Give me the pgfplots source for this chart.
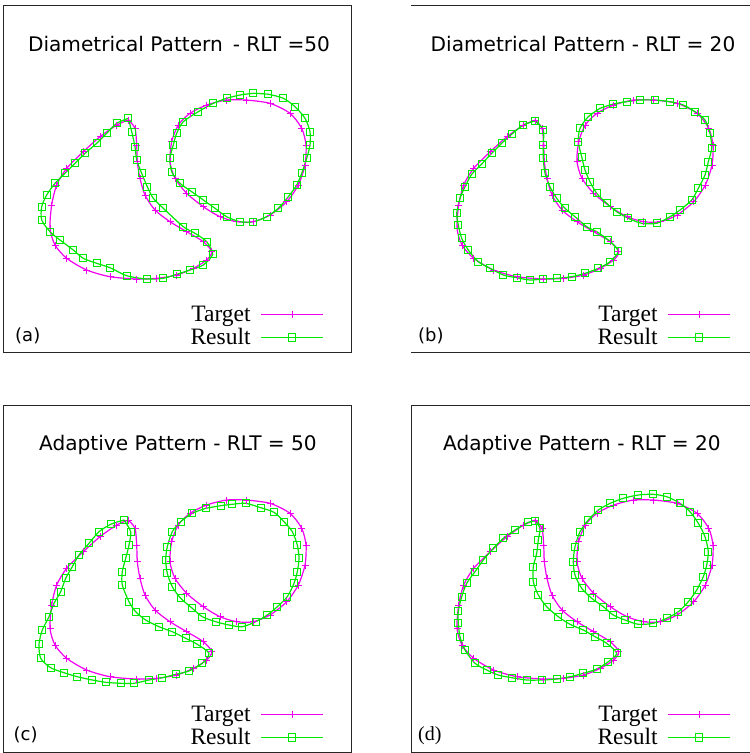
\documentclass[border=0pt]{standalone}
\usepackage{fontspec}
\setmainfont{DejaVu Sans}
\newfontfamily\lserif{Liberation Serif}
\usepackage{pgfplots}
\pgfplotsset{compat=1.18}
\usepackage{pgfplotstable}

\definecolor{tgt}{RGB}{240,0,240}
\definecolor{res}{RGB}{0,232,0}

% Target (same in all panels), panel-relative pixel coordinates
\pgfplotstableread{
x y
124.3 115
131 123.3
132.7 140
133.3 156.7
136 173.3
141 190
151 205
166 216.7
182.7 226.7
199.3 236.7
207.7 246.7
202.7 255
189.3 263.3
172.7 270
152.7 273.3
132.7 274
106 271.7
82.7 265
62.7 253.3
51 240
46 223.3
47.7 200
52.7 180
62.7 163.3
79.3 146.7
96 131.7
112.7 120
124.3 115
}\TT
\pgfplotstableread{
x y
242.7 95
266 98.3
286 108.3
297.7 123.3
302 140
301 160
294.3 180
282.7 196.7
266 210
249.3 216.7
232.7 216.7
216 211.7
199.3 201.7
182.7 188.3
171 173.3
166 156.7
167.7 136.7
174.3 120
186 108.3
202.7 100
222.7 95
242.7 95
}\TC

% Result (a)
\pgfplotstableread{
x y
124.3 113.3
127.7 126.7
131 141.7
132.7 155
137.7 168.3
143.3 181.7
149.3 193.3
159.3 203.3
179.3 221.7
191 228.3
202.7 236.7
208.7 249.3
199.3 260
186 265
172.7 269.3
159.3 273.3
142.7 274
122.7 270.7
106 262.7
92.7 258.3
79.3 253.3
69.3 245
56 235
46 226.7
37.7 215
37.7 201.7
42.7 190
51 178.3
61 168.3
71 158.3
81 148.3
92.7 138.3
102.7 128.3
112.7 118.3
124.3 113.3
}\RAT
\pgfplotstableread{
x y
249.3 88.3
264.3 89.3
279.3 93.3
291 101.7
301 113.3
306 126.7
306 140
302.7 153.3
297.7 168.3
292.7 180
284.3 191.7
274.3 203.3
262.7 211.7
249.3 216.7
236 216.7
222.7 211.7
211 203.3
199.3 195
187.7 186.7
176 178.3
167.7 166.7
166 153.3
169.3 140
172.7 128.3
179.3 116.7
194.3 106.7
209.3 98.3
222.7 93.3
236 90
249.3 88.3
}\RAC

% Result (b)
\pgfplotstableread{
x y
124 116
112.3 120
100.7 129.3
90.7 138.3
80.7 148.3
70.7 159
60.7 169.3
54 181.7
49 193.3
45.7 208.3
47.3 220
50.7 233.3
57.3 245
67.3 256.7
79 263.3
92.3 270
105.7 272.7
119 275
132.3 274
145.7 273.3
160.7 271.7
174 268.3
187.3 263.3
199 256.7
207.3 246
197.3 235
185.7 226.7
175.7 221.7
164 211.7
154 203.3
145.7 193.3
139 181.7
134 168.3
132.3 153.3
132.3 140
132.3 125
124 116
}\RBT
\pgfplotstableread{
x y
189 103.3
202.3 99
215.7 96.7
229 95
244 95
259 96.7
272.3 100
284 106.7
294 115
299 128.3
300.7 143.3
297.3 156.7
294 170
287.3 183.3
280.7 195
269 205
259 211.7
245.7 218.3
230.7 218.3
217.3 213.3
205.7 206.7
195.7 198.3
185.7 188.3
179 176.7
174 165
170.7 151.7
167.3 136.7
169 123.3
177.3 111.7
189 103.3
}\RBC

% Result (c)
\pgfplotstableread{
x y
120 115
106.7 119.3
95 126.7
85 138.3
75 150
68.3 161.7
61.7 173.3
56.7 186.7
50 198.3
45 211.7
38.3 225
35 239.3
36.7 253.3
46.7 262.7
60 267.7
73.3 271.7
88.3 275
101.7 277.3
116.7 278.3
130 278.3
145 275
158.3 272.7
171.7 269.3
185 266
198.3 258.3
205 248.3
193.3 239.3
181.7 233.3
168.3 226.7
155 221.7
141.7 215
131.7 206.7
125 196.7
118.3 180
118.3 166.7
121.7 153.3
125 140
126.7 126.7
120 115
}\RCT
\pgfplotstableread{
x y
201.7 103.3
216.7 100.7
228.3 99.3
241.7 98.3
256.7 102.7
270 107.3
280 116.7
288.3 126.7
293.3 140
295 153.3
293.3 166.7
290 178.3
283.3 191.7
273.3 201.7
263.3 210
251.7 216.7
238.3 221.7
225 220
211.7 216.7
198.3 211.7
188.3 203.3
176.7 193.3
168.3 181.7
163.3 168.3
161.7 155
163.3 141.7
168.3 126.7
176.7 116.7
188.3 108.3
201.7 103.3
}\RCC

% Result (d)
\pgfplotstableread{
x y
124 116
117.3 117.3
104 125
92.3 133.3
82.3 143.3
72.3 155
64 166.7
55.7 178.3
50.7 191.7
47.3 206
47.3 218.3
49 231.7
54 245
64 258.3
75.7 265
87.3 270
100.7 272.7
115.7 275
130.7 275
145.7 274
159 271.7
172.3 268.3
185.7 264
197.3 256.7
205.7 248.3
195.7 238.3
184 231.7
172.3 225
159 219.3
147.3 211.7
135.7 201.7
127.3 190
122.3 176.7
122.3 161.7
125.7 148.3
127.3 135
129 123.3
124 116
}\RDT
\pgfplotstableread{
x y
199 98.3
212.3 93.3
227.3 90
242.3 89.3
255.7 91.7
269 98.3
279 106.7
287.3 118.3
294 131.7
297.3 146.7
295.7 160
292.3 171.7
285.7 185
277.3 196.7
267.3 206.7
255.7 213.3
242.3 218.3
227.3 219.3
214 215
202.3 210
192.3 201.7
180.7 193.3
170.7 183.3
164 170
162.3 156.7
164 141.7
169 126.7
177.3 115
187.3 105
199 98.3
}\RDC

\pgfplotsset{
  panel/.style={
    width=347.5pt, height=347pt, scale only axis,
    xmin=0, xmax=347.5, ymin=0, ymax=347, y dir=reverse,
    ticks=none, clip=false,
    axis line style={black!85, line width=1pt},
    legend plot pos=right,
    legend cell align=right,
    legend image code/.code={\draw[mark repeat=2,mark phase=2,##1] plot coordinates {(0pt,0pt) (31pt,0pt) (62pt,0pt)};},
    legend style={draw=none, fill=none, at={(axis cs:320,343.5)}, anchor=south east,
      font=\lserif\fontsize{23.5}{25}\selectfont, inner sep=0pt, row sep=1.5pt, column sep=8pt},
  },
  tgtstyle/.style={tgt, line width=1.2pt, mark=+, mark size=3.5pt, smooth, tension=0.45, mark options={line width=1pt}},
  resstyle/.style={res, line width=1.2pt, mark=square, mark size=3.6pt, smooth, tension=0.45, mark options={line width=0.9pt}},
}
\newcommand{\ttl}{\fontsize{20.1}{22}\selectfont}
\newcommand{\lbl}{\fontsize{18}{20}\selectfont}

\begin{document}
\begin{tikzpicture}
\useasboundingbox (0,0) rectangle (750pt,-753pt);

% (a)
\begin{axis}[panel, at={(4pt,-5pt)}, anchor=north west]
\addplot[tgtstyle] table {\TT}; \addlegendentry{Target}
\addplot[tgtstyle, forget plot] table {\TC};
\addplot[resstyle] table {\RAT}; \addlegendentry{Result}
\addplot[resstyle, forget plot] table {\RAC};
\node[font=\ttl, anchor=base] at (axis cs:175,46.7) {Diametrical Pattern\hspace{0.5em}- RLT =50};
\node[font=\lbl, anchor=base west, inner sep=0pt] at (axis cs:11,336) {(a)};
\end{axis}

% (b)
\begin{axis}[panel, at={(411pt,-5pt)}, anchor=north west, axis x line=box, axis y line=none]
\addplot[tgtstyle] table {\TT}; \addlegendentry{Target}
\addplot[tgtstyle, forget plot] table {\TC};
\addplot[resstyle] table {\RBT}; \addlegendentry{Result}
\addplot[resstyle, forget plot] table {\RBC};
\node[font=\ttl, anchor=base] at (axis cs:172,46.7) {Diametrical Pattern - RLT = 20};
\node[font=\lbl, anchor=base west, inner sep=0pt] at (axis cs:7,336.5) {(b)};
\end{axis}

% (c)
\begin{axis}[panel, at={(4pt,-405pt)}, anchor=north west]
\addplot[tgtstyle] table {\TT}; \addlegendentry{Target}
\addplot[tgtstyle, forget plot] table {\TC};
\addplot[resstyle] table {\RCT}; \addlegendentry{Result}
\addplot[resstyle, forget plot] table {\RCC};
\node[font=\ttl, anchor=base] at (axis cs:174,45) {Adaptive Pattern - RLT = 50};
\node[font=\lbl, anchor=base west, inner sep=0pt] at (axis cs:9.5,335) {(c)};
\end{axis}

% (d)
\begin{axis}[panel, at={(411pt,-405pt)}, anchor=north west]
\addplot[tgtstyle] table {\TT}; \addlegendentry{Target}
\addplot[tgtstyle, forget plot] table {\TC};
\addplot[resstyle] table {\RDT}; \addlegendentry{Result}
\addplot[resstyle, forget plot] table {\RDC};
\node[font=\ttl, anchor=base] at (axis cs:171,45) {Adaptive Pattern - RLT = 20};
\node[font=\lserif\fontsize{20}{22}\selectfont, anchor=base west, inner sep=0pt] at (axis cs:7,335) {(d)};
\end{axis}
\end{tikzpicture}
\end{document}
